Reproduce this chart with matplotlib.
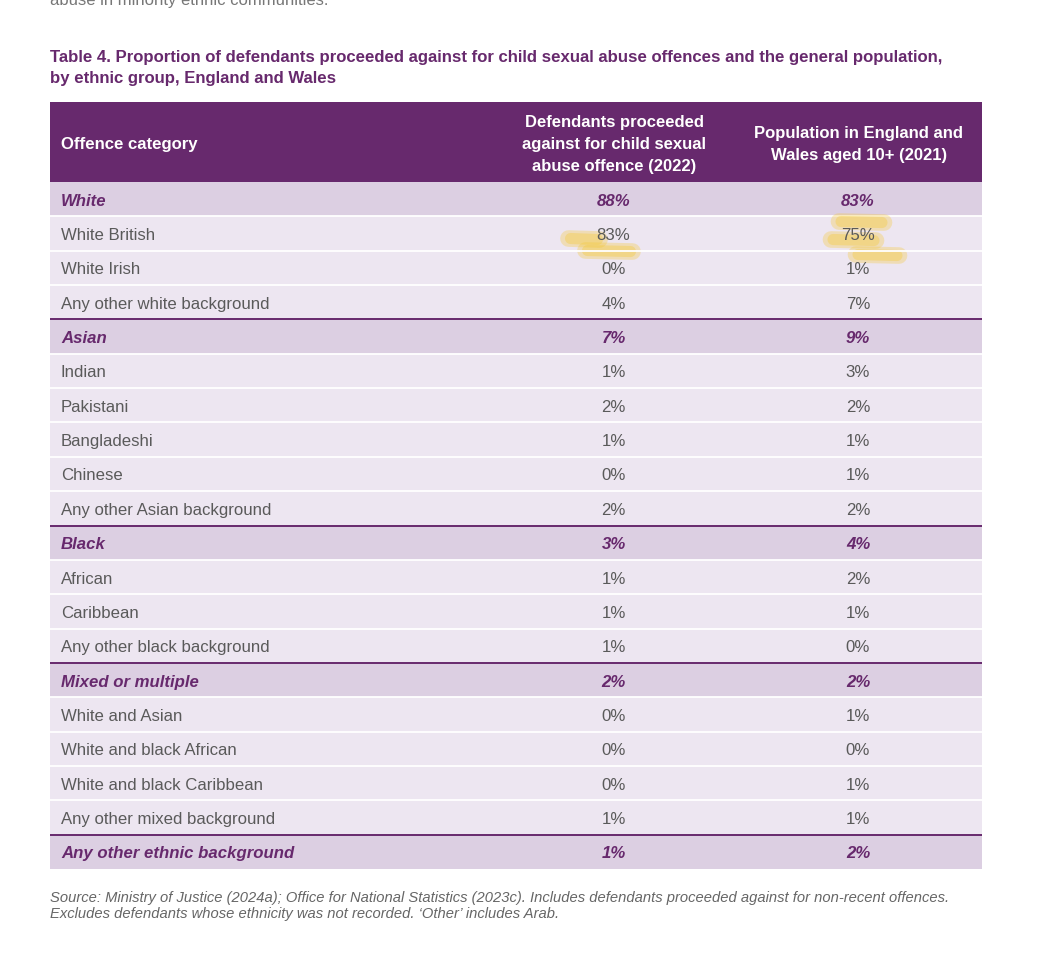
import matplotlib.pyplot as plt
from matplotlib.patches import Rectangle

plt.rcParams["font.family"] = ["Liberation Sans", "DejaVu Sans"]

# Table contents
categories = [
    "White", "White British", "White Irish", "Any other white background",
    "Asian", "Indian", "Pakistani", "Bangladeshi", "Chinese",
    "Any other Asian background",
    "Black", "African", "Caribbean", "Any other black background",
    "Mixed or multiple", "White and Asian", "White and black African",
    "White and black Caribbean", "Any other mixed background",
    "Any other ethnic background",
]
is_group = [
    True, False, False, False,
    True, False, False, False, False, False,
    True, False, False, False,
    True, False, False, False, False,
    True,
]
defendants = [88, 83, 0, 4, 7, 1, 2, 1, 0, 2, 3, 1, 1, 1, 2, 0, 0, 0, 1, 1]
population = [83, 75, 1, 7, 9, 3, 2, 1, 1, 2, 4, 2, 1, 0, 2, 1, 0, 1, 1, 2]
highlighted = ["White British"]

col_headers = [
    "Offence category",
    "Defendants proceeded\nagainst for child sexual\nabuse offence (2022)",
    "Population in England and\nWales aged 10+ (2021)",
]
title = ("Table 4. Proportion of defendants proceeded against for child sexual "
         "abuse offences and the general population,\nby ethnic group, England and Wales")
source = ("Source: Ministry of Justice (2024a); Office for National Statistics (2023c). "
          "Includes defendants proceeded against for non-recent offences.\n"
          "Excludes defendants whose ethnicity was not recorded. \u2018Other\u2019 includes Arab.")

PURPLE = "#67296d"
GROUP_BG = "#dccfe2"
ROW_BG = "#ede6f1"
GREY = "#5a5a5a"

W, H = 1040, 954
fig = plt.figure(figsize=(W / 100, H / 100), dpi=100)
ax = fig.add_axes([0, 0, 1, 1])
ax.set_xlim(0, W)
ax.set_ylim(H, 0)
ax.axis("off")

left, right = 50, 982
col_x = [50, 493, 740, 982]
head_top, head_bot = 103, 183
row_h = (870 - head_bot) / len(categories)

# cut-off text from the page above
ax.text(50, 1, "abuse in minority ethnic communities.", fontsize=12,
        color="#777777", va="center", ha="left")

ax.text(50, 68, title, fontsize=12.1, fontweight="bold", color=PURPLE,
        va="center", ha="left", linespacing=1.45)

# header band
ax.add_patch(Rectangle((left, head_top), right - left, head_bot - head_top,
                       facecolor=PURPLE, edgecolor="none"))
hy = (head_top + head_bot) / 2
ax.text(61, hy + 1, col_headers[0], fontsize=12.1, fontweight="bold",
        color="white", va="center", ha="left")
for i, lab in enumerate(col_headers[1:]):
    cx = (col_x[i + 1] + col_x[i + 2]) / 2 - 2
    ax.text(cx, hy + 1.5, lab, fontsize=12, fontweight="bold", color="white",
            va="center", ha="center", linespacing=1.58)

# body rows
for r, (cat, grp, d, p) in enumerate(zip(categories, is_group, defendants, population)):
    y0 = head_bot + r * row_h
    yc = y0 + row_h / 2
    ax.add_patch(Rectangle((left, y0), right - left, row_h,
                           facecolor=GROUP_BG if grp else ROW_BG,
                           edgecolor="none"))
    if r > 0:
        if grp:
            ax.plot([left, right], [y0, y0], color=PURPLE, lw=1.4,
                    solid_capstyle="butt")
        else:
            ax.plot([left, right], [y0, y0], color="white", lw=1.3,
                    solid_capstyle="butt")
    style = dict(fontsize=12.1, va="center")
    if grp:
        style.update(color=PURPLE, fontweight="bold", fontstyle="italic")
    else:
        style.update(color=GREY)
    c2 = (col_x[1] + col_x[2]) / 2
    c3 = (col_x[2] + col_x[3]) / 2

    # yellow highlighter strokes (drawn under the text)
    if cat in highlighted:
        strokes = [
            (c2 - 48, c2 - 17, yc + 5),
            (c2 - 31, c2 + 16, yc + 17),
            (c3 - 22, c3 + 23, yc - 12),
            (c3 - 30, c3 + 15, yc + 6),
            (c3 - 5, c3 + 38, yc + 21),
        ]
        for xa, xb, yy in strokes:
            ax.plot([xa, xb], [yy, yy + 1], color="#f5c830", alpha=0.3,
                    lw=12, solid_capstyle="round")
            ax.plot([xa + 2, xb - 2], [yy, yy + 1], color="#f5c830", alpha=0.35,
                    lw=8, solid_capstyle="round")

    ax.text(61, yc + 1, cat, ha="left", **style)
    ax.text(c2 - 3, yc + 1, f"{d}%", ha="center", **style)
    ax.text(c3 - 3, yc + 1, f"{p}%", ha="center", **style)

ax.text(50, 906, source, fontsize=10.6, fontstyle="italic", color="#666666",
        va="center", ha="left", linespacing=1.2)

fig.savefig("out.png", dpi=100, facecolor="white")
